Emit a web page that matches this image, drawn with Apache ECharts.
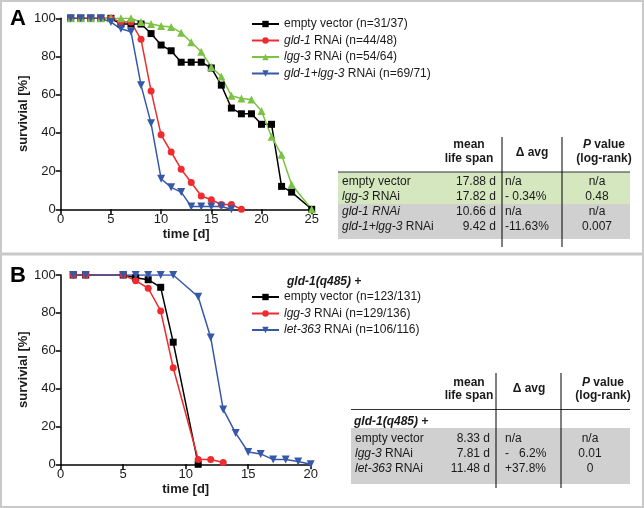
<!DOCTYPE html>
<html><head><meta charset="utf-8">
<script src="https://cdn.jsdelivr.net/npm/echarts@6/dist/echarts.min.js"></script>
<style>html,body{margin:0;padding:0;background:#fff}#c{width:644px;height:508px}</style>
</head><body><div id="c"></div>
<script>
// ---------- Panel A data ----------
const aEmptyDays = [1,2,3,4,5,6,7,8,9,10,11,12,13,14,15,16,17,18,19,20,21,22,23,25];
const aEmptyVals = [100,100,100,100,100,97,97,97,92,86,83,77,77,77,74,65,53,50,50,44.5,44.5,12,9,0];
const aGld1Days = [1,2,3,4,5,6,7,8,9,10,11,12,13,14,15,16,17,18];
const aGld1Vals = [100,100,100,100,100,98,98,89,62,39,30,21,14,7,5,2.5,2.5,0];
const aLgg3Days = [1,2,3,4,5,6,7,8,9,10,11,12,13,14,15,16,17,18,19,20,21,22,23,25];
const aLgg3Vals = [100,100,100,100,100,100,100,98,97,96,95.5,92.5,87.5,82.5,74.5,69.5,59.5,58,57.5,51.5,38,28.5,13,0];
const aBothDays = [1,2,3,4,5,6,7,8,9,10,11,12,13,14,15,16,17];
const aBothVals = [100,100,100,100,98,94.5,93,65,45,16,11.5,9,1.5,1.5,1.5,1.5,0];
const aLegend = ['empty vector (n=31/37)','{i|gld-1} RNAi (n=44/48)','{i|lgg-3} RNAi (n=54/64)','{i|gld-1+lgg-3} RNAi (n=69/71)'];

// ---------- Panel B data ----------
const bEmptyDays = [1,2,5,6,7,8,9,11];
const bEmptyVals = [100,100,100,98.5,97.5,93.5,64.5,0];
const bLgg3Days = [1,2,5,6,7,8,9,11,12,13];
const bLgg3Vals = [100,100,100,97,93,81,51,2.5,2.5,1];
const bLet363Days = [1,2,5,6,7,8,9,11,12,13,14,15,16,17,18,19,20];
const bLet363Vals = [100,100,100,100,100,100,100,88.5,67,29,16.5,6.5,5.5,2.5,2.5,1.5,0];
const bLegend = ['empty vector (n=123/131)','{i|lgg-3} RNAi (n=129/136)','{i|let-363} RNAi (n=106/116)'];

// ---------- Axis ticks ----------
const aXMax = 25, bXMax = 20, xStep = 5, yMax = 100, yStep = 20;

// ---------- Tables ----------
const tblHeadMean = ['mean','life span'];
const tblHeadDelta = 'Δ avg';
const tblHeadP = ['{ib|P} value','(log-rank)'];
const aRowNames = ['empty vector','{i|lgg-3} RNAi','{i|gld-1 RNAi}','{i|gld-1+lgg-3} RNAi'];
const aRowMean = ['17.88 d','17.82 d','10.66 d','9.42 d'];
const aRowDelta = ['n/a','- 0.34%','n/a','-11.63%'];
const aRowP = ['n/a','0.48','n/a','0.007'];
const bGroup = 'gld-1(q485) +';
const bRowNames = ['empty vector','{i|lgg-3} RNAi','{i|let-363} RNAi'];
const bRowMean = ['8.33 d','7.81 d','11.48 d'];
const bRowDelta = ['n/a','-   6.2%','+37.8%'];
const bRowP = ['n/a','0.01','0'];

const FONT = '"Liberation Sans", Arial, sans-serif';
const TXT = '#1a1a1a';
const COLORS = {black:'#000000', red:'#ee2b2e', green:'#7cc245', blue:'#3658a8'};

function pairs(d,v){return d.map((x,i)=>[x,v[i]]);}
function rich(size){
  return {
    n:{fontFamily:FONT,fontSize:size,color:TXT},
    i:{fontFamily:FONT,fontSize:size,color:TXT,fontStyle:'italic'},
    b:{fontFamily:FONT,fontSize:size,color:TXT,fontWeight:'bold'},
    ib:{fontFamily:FONT,fontSize:size,color:TXT,fontStyle:'italic',fontWeight:'bold'}
  };
}

function lineSeries(name, data, color, symbol, xi, rot, size){
  return {
    type:'line', name, xAxisIndex:xi, yAxisIndex:xi, data,
    symbol, symbolSize:size||7, symbolRotate:rot||0,
    lineStyle:{color, width:1.5}, itemStyle:{color},
    animation:false, z: 3
  };
}

function xAxis(gi,max){
  return {
    gridIndex:gi, type:'value', min:0, max, interval:xStep,
    name:'time [d]', nameLocation:'middle', nameGap:19,
    nameTextStyle:{fontFamily:FONT,fontSize:13,fontWeight:'bold',color:TXT},
    axisLine:{lineStyle:{color:'#000',width:1.5}},
    axisTick:{inside:false,length:5,lineStyle:{color:'#000',width:1.5}},
    axisLabel:{fontFamily:FONT,fontSize:13,color:TXT,margin:4},
    splitLine:{show:false}
  };
}
function yAxis(gi){
  return {
    gridIndex:gi, type:'value', min:0, max:yMax, interval:yStep,
    name:'survivial [%]', nameLocation:'middle', nameGap:29, nameRotate:90,
    nameTextStyle:{fontFamily:FONT,fontSize:13,fontWeight:'bold',color:TXT},
    axisLine:{show:true,lineStyle:{color:'#000',width:1.5}},
    axisTick:{show:true,inside:false,length:5,lineStyle:{color:'#000',width:1.5}},
    axisLabel:{fontFamily:FONT,fontSize:13,color:TXT,margin:5},
    splitLine:{show:false}
  };
}

const aNames = ['A0','A1','A2','A3'];
const bNames = ['B0','B1','B2'];

function legendCfg(names, labels, top){
  return {
    data:names, orient:'vertical', left:246, top,
    itemWidth:27, itemHeight:8, itemGap:2.5,
    formatter:(n)=>labels[names.indexOf(n)],
    textStyle:{fontFamily:FONT,fontSize:12,color:TXT,lineHeight:14,rich:rich(12)},
    selectedMode:false
  };
}

// graphic helpers
const G = [];
function txt(x,y,text,opts){
  opts = opts||{};
  G.push({type:'text', x, y, z:10, style:Object.assign({
    text, fill:TXT, font:(opts.weight||'normal')+' '+(opts.size||12)+'px '+FONT,
    textAlign:opts.align||'left', textVerticalAlign:'middle',
    rich:rich(opts.size||12)
  }, opts.style||{})});
}
function rect(x,y,w,h,fill){G.push({type:'rect',z:1,shape:{x,y,width:w,height:h},style:{fill}});}
function line(x1,y1,x2,y2,color,w){G.push({type:'line',z:2,shape:{x1,y1,x2,y2},style:{stroke:color,lineWidth:w}});}

// borders
G.push({type:'rect',z:0,shape:{x:1,y:1,width:642,height:506},style:{fill:'none',stroke:'#c9c9c9',lineWidth:2}});
line(0,254,644,254,'#c9c9c9',3);
// panel letters
txt(10,19,'A',{size:22,weight:'bold',style:{fill:'#000'}});
txt(10,276,'B',{size:22,weight:'bold',style:{fill:'#000'}});

// Table A
rect(338,172,292,32,'#d4e7be');
rect(338,204,292,35,'#d0d0d0');
line(338,172,630,172,'#333',1);
line(502,137,502,247,'#000',1);
line(562,137,562,247,'#000',1);
txt(469,145,tblHeadMean[0],{weight:'bold',align:'center'});
txt(469,159,tblHeadMean[1],{weight:'bold',align:'center'});
txt(532,153,tblHeadDelta,{weight:'bold',align:'center'});
G.push({type:'text',x:604,y:145,z:10,style:{text:tblHeadP[0],textAlign:'center',textVerticalAlign:'middle',font:'bold 12px '+FONT,fill:TXT,rich:{ib:{fontFamily:FONT,fontSize:12,fontWeight:'bold',fontStyle:'italic',color:TXT}}}});
txt(604,159,tblHeadP[1],{weight:'bold',align:'center'});
const aRowY = [182,196.5,212,227];
aRowNames.forEach((n,i)=>{
  txt(342,aRowY[i],n);
  txt(496,aRowY[i],aRowMean[i],{align:'right'});
  txt(505,aRowY[i],aRowDelta[i]);
  txt(597,aRowY[i],aRowP[i],{align:'center'});
});

// Table B
rect(351,428,279,56,'#d0d0d0');
line(351,409.5,630,409.5,'#333',1);
line(496,373,496,488,'#000',1);
line(561,373,561,488,'#000',1);
txt(469,383,tblHeadMean[0],{weight:'bold',align:'center'});
txt(469,396,tblHeadMean[1],{weight:'bold',align:'center'});
txt(529,389,tblHeadDelta,{weight:'bold',align:'center'});
G.push({type:'text',x:603,y:383,z:10,style:{text:tblHeadP[0],textAlign:'center',textVerticalAlign:'middle',font:'bold 12px '+FONT,fill:TXT,rich:{ib:{fontFamily:FONT,fontSize:12,fontWeight:'bold',fontStyle:'italic',color:TXT}}}});
txt(603,396,tblHeadP[1],{weight:'bold',align:'center'});
txt(354,422,bGroup,{weight:'bold',style:{font:'italic bold 12px '+FONT}});
const bRowY = [438.5,453.5,468.5];
bRowNames.forEach((n,i)=>{
  txt(355,bRowY[i],n);
  txt(490,bRowY[i],bRowMean[i],{align:'right'});
  txt(505,bRowY[i],bRowDelta[i]);
  txt(590,bRowY[i],bRowP[i],{align:'center'});
});
// Legend B group header
txt(287,282,bGroup,{style:{font:'italic bold 12px '+FONT}});

const option = {
  animation:false,
  backgroundColor:'#fff',
  grid:[
    {left:60.7, top:18.3, width:251, height:191},
    {left:60.7, top:275, width:250, height:189.3}
  ],
  xAxis:[xAxis(0,aXMax), xAxis(1,bXMax)],
  yAxis:[yAxis(0), yAxis(1)],
  legend:[legendCfg(aNames,aLegend,12), legendCfg(bNames,bLegend,285)],
  series:[
    lineSeries('A0',pairs(aEmptyDays,aEmptyVals),COLORS.black,'rect',0,0,7),
    lineSeries('A1',pairs(aGld1Days,aGld1Vals),COLORS.red,'circle',0,0,7),
    lineSeries('A2',pairs(aLgg3Days,aLgg3Vals),COLORS.green,'triangle',0,0,8),
    lineSeries('A3',pairs(aBothDays,aBothVals),COLORS.blue,'triangle',0,180,8),
    lineSeries('B0',pairs(bEmptyDays,bEmptyVals),COLORS.black,'rect',1,0,7),
    lineSeries('B1',pairs(bLgg3Days,bLgg3Vals),COLORS.red,'circle',1,0,7),
    lineSeries('B2',pairs(bLet363Days,bLet363Vals),COLORS.blue,'triangle',1,180,8)
  ],
  graphic:G
};
const chart = echarts.init(document.getElementById('c'),null,{renderer:'canvas'});
chart.setOption(option);
</script>
</body></html>
